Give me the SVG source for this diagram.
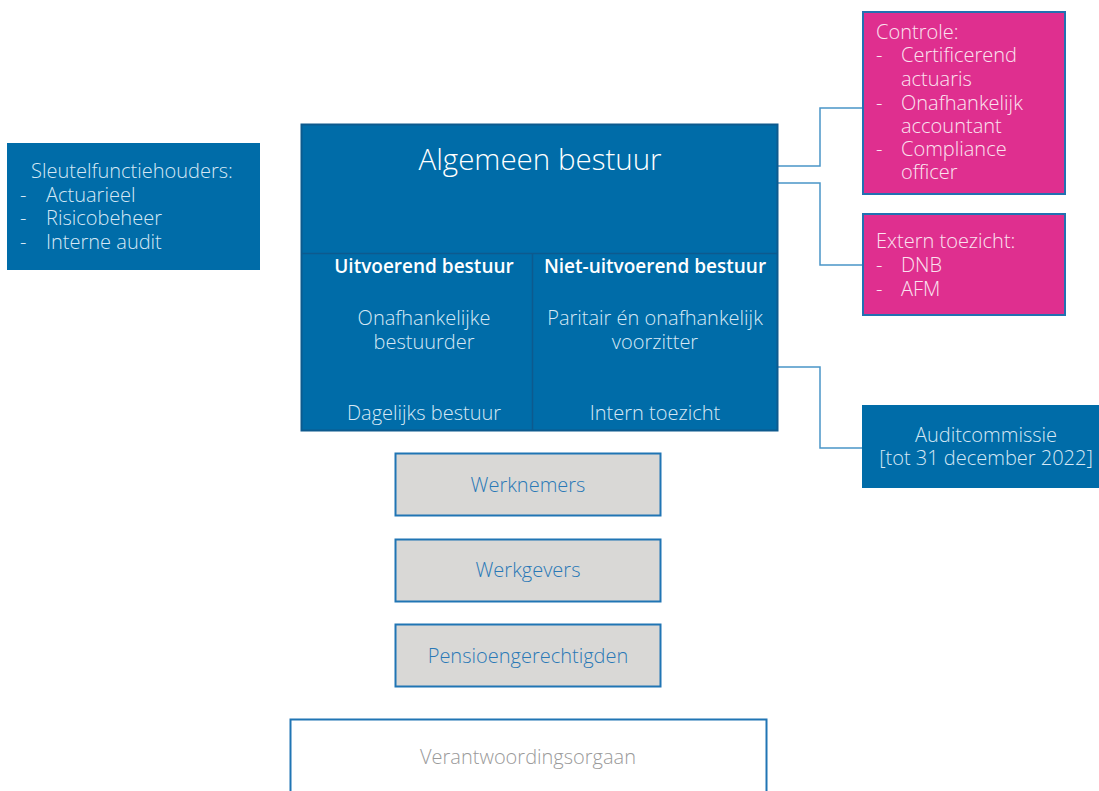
<svg xmlns="http://www.w3.org/2000/svg" width="1099" height="791" viewBox="0 0 1099 791">
<style>
text{font-family:"Open Sans","Noto Sans","Liberation Sans",sans-serif;font-weight:300;font-size:20px}
.blue{fill:#006ca8}
.mag{fill:#df2f8f;stroke:#2271b1;stroke-width:2}
.gray{fill:#d9d8d6;stroke:#2075b4;stroke-width:2}
.w{fill:#ffffff}
.wl{fill:#d6e8f5}
.pk{fill:#fbe3f0}
.c{text-anchor:middle}
.conn{fill:none;stroke:#4a95c8;stroke-width:1.5}
</style>
<g id="connectors">
<polyline class="conn" points="778,166 820,166 820,108 863,108"/>
<polyline class="conn" points="778,183 820,183 820,265 863,265"/>
<polyline class="conn" points="778,367 820,367 820,448 862,448"/>
</g>
<g id="sleutelfunctiehouders">
<rect class="blue" x="7" y="143" width="253" height="127"/>
<text class="wl" x="31" y="178">Sleutelfunctiehouders:</text>
<text class="wl" x="20" y="202">-</text><text class="wl" x="46" y="202">Actuarieel</text>
<text class="wl" x="20" y="225">-</text><text class="wl" x="46" y="225">Risicobeheer</text>
<text class="wl" x="20" y="249">-</text><text class="wl" x="46" y="249">Interne audit</text>
</g>
<g id="algemeen-bestuur">
<rect class="blue" x="301.5" y="124.5" width="476" height="306" stroke="#0d5a8e" stroke-width="2"/>
<line x1="301.5" y1="253.5" x2="777.5" y2="253.5" stroke="#0d5a8e" stroke-width="1.5"/>
<line x1="532.5" y1="253.5" x2="532.5" y2="430.5" stroke="#0d5a8e" stroke-width="1.5"/>
<text class="w c" x="540" y="170" style="font-size:29.5px">Algemeen bestuur</text>
</g>
<g id="uitvoerend-bestuur">
<text class="w c" x="424" y="273" style="font-weight:600;font-size:19px">Uitvoerend bestuur</text>
<text class="wl c" x="424" y="325">Onafhankelijke</text>
<text class="wl c" x="424" y="349">bestuurder</text>
<text class="wl c" x="424" y="420">Dagelijks bestuur</text>
</g>
<g id="niet-uitvoerend-bestuur">
<text class="w c" x="655" y="273" style="font-weight:600;font-size:19px">Niet-uitvoerend bestuur</text>
<text class="wl c" x="655" y="325">Paritair én onafhankelijk</text>
<text class="wl c" x="655" y="349">voorzitter</text>
<text class="wl c" x="655" y="420">Intern toezicht</text>
</g>
<g id="controle">
<rect class="mag" x="863" y="12" width="202" height="182"/>
<text class="pk" x="876" y="39">Controle:</text>
<text class="pk" x="876" y="62">-</text><text class="pk" x="901" y="62">Certificerend</text>
<text class="pk" x="901" y="86">actuaris</text>
<text class="pk" x="876" y="110">-</text><text class="pk" x="901" y="110">Onafhankelijk</text>
<text class="pk" x="901" y="133">accountant</text>
<text class="pk" x="876" y="156">-</text><text class="pk" x="901" y="156">Compliance</text>
<text class="pk" x="901" y="179">officer</text>
</g>
<g id="extern-toezicht">
<rect class="mag" x="863" y="214" width="202" height="101"/>
<text class="pk" x="876" y="248">Extern toezicht:</text>
<text class="pk" x="876" y="272">-</text><text class="pk" x="901" y="272">DNB</text>
<text class="pk" x="876" y="296">-</text><text class="pk" x="901" y="296">AFM</text>
</g>
<g id="auditcommissie">
<rect class="blue" x="862" y="405" width="237" height="83"/>
<text class="wl c" x="986" y="442">Auditcommissie</text>
<text class="wl c" x="986" y="465">[tot 31 december 2022]</text>
</g>
<g id="werknemers">
<rect class="gray" x="395.5" y="453.5" width="265" height="62"/>
<text class="c" x="528" y="492" fill="#2a78b6">Werknemers</text>
</g>
<g id="werkgevers">
<rect class="gray" x="395.5" y="539.5" width="265" height="62"/>
<text class="c" x="528" y="577" fill="#2a78b6">Werkgevers</text>
</g>
<g id="pensioengerechtigden">
<rect class="gray" x="395.5" y="624.5" width="265" height="62"/>
<text class="c" x="528" y="663" fill="#2a78b6">Pensioengerechtigden</text>
</g>
<g id="verantwoordingsorgaan">
<rect x="290.5" y="719.5" width="476" height="90" fill="#ffffff" stroke="#2075b4" stroke-width="2"/>
<text class="c" x="528" y="764" fill="#9a9a9a">Verantwoordingsorgaan</text>
</g>
</svg>
